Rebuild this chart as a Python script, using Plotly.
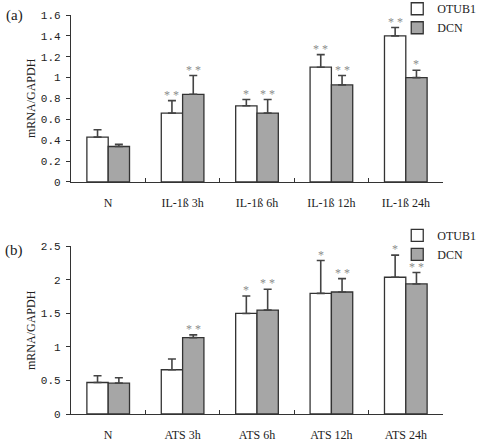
import plotly.graph_objects as go

# ---- data ----
cats_a = ["N", "IL-1ß 3h", "IL-1ß 6h", "IL-1ß 12h", "IL-1ß 24h"]
otub1_a = [0.43, 0.66, 0.73, 1.10, 1.40]
otub1_a_err = [0.07, 0.12, 0.06, 0.12, 0.08]
dcn_a = [0.34, 0.84, 0.66, 0.93, 1.00]
dcn_a_err = [0.02, 0.18, 0.13, 0.09, 0.07]
otub1_a_sig = ["", "**", "*", "**", "**"]
dcn_a_sig = ["", "**", "**", "**", "*"]

cats_b = ["N", "ATS 3h", "ATS 6h", "ATS 12h", "ATS 24h"]
otub1_b = [0.47, 0.66, 1.50, 1.80, 2.04]
otub1_b_err = [0.10, 0.16, 0.26, 0.49, 0.33]
dcn_b = [0.46, 1.14, 1.55, 1.82, 1.94]
dcn_b_err = [0.08, 0.04, 0.31, 0.20, 0.17]
otub1_b_sig = ["", "", "*", "*", "*"]
dcn_b_sig = ["", "**", "**", "**", "**"]

yticks_a = [0, 0.2, 0.4, 0.6, 0.8, 1, 1.2, 1.4, 1.6]
yticks_b = [0, 0.5, 1, 1.5, 2, 2.5]

BARGAP = 0.427
EDGE = "#333333"
GRAY = "#a6a6a6"
STAR = "#8c8c8c"
SERIF = "Liberation Serif"
MONO = "Liberation Mono"

fig = go.Figure()

def add_panel(cats, o, oe, d, de, xa, ya, legend):
    fig.add_trace(go.Bar(
        x=cats, y=o, name="OTUB1", xaxis=xa, yaxis=ya, legend=legend,
        marker=dict(color="white", line=dict(color=EDGE, width=1.3)),
        error_y=dict(type="data", array=oe, arrayminus=[0]*len(oe), symmetric=False,
                     color="#444444", thickness=1.6, width=4),
    ))
    fig.add_trace(go.Bar(
        x=cats, y=d, name="DCN", xaxis=xa, yaxis=ya, legend=legend,
        marker=dict(color=GRAY, line=dict(color=EDGE, width=1.3)),
        error_y=dict(type="data", array=de, arrayminus=[0]*len(de), symmetric=False,
                     color="#444444", thickness=1.6, width=4),
    ))

add_panel(cats_a, otub1_a, otub1_a_err, dcn_a, dcn_a_err, "x", "y", "legend")
add_panel(cats_b, otub1_b, otub1_b_err, dcn_b, dcn_b_err, "x2", "y2", "legend2")

half = (1 - BARGAP) / 4.0  # offset of each bar centre from category centre

def add_stars(vals, errs, sigs, xref, yref, sign):
    for i, (v, e, s) in enumerate(zip(vals, errs, sigs)):
        if not s:
            continue
        fig.add_annotation(
            x=i + sign * half, y=v + e, xref=xref, yref=yref,
            text=" ".join(s), showarrow=False, yanchor="bottom", yshift=-3,
            font=dict(family=SERIF, size=12, color=STAR),
        )

add_stars(otub1_a, otub1_a_err, otub1_a_sig, "x", "y", -1)
add_stars(dcn_a, dcn_a_err, dcn_a_sig, "x", "y", 1)
add_stars(otub1_b, otub1_b_err, otub1_b_sig, "x2", "y2", -1)
add_stars(dcn_b, dcn_b_err, dcn_b_sig, "x2", "y2", 1)

TOP_DOM = [0.5815, 1.0]
BOT_DOM = [0.0, 0.42]

xcommon = dict(showline=True, linecolor=EDGE, linewidth=1.3, ticks="inside", ticklen=4,
               tickcolor=EDGE, tickson="boundaries", showgrid=False,
               tickfont=dict(family=SERIF, size=12, color="#222222"), ticklabelstandoff=9)
ycommon = dict(showline=True, linecolor=EDGE, linewidth=1.3, ticks="outside", ticklen=4,
               tickcolor=EDGE, showgrid=False, zeroline=False,
               tickfont=dict(family=MONO, size=11, color="#222222"), ticklabelstandoff=3)

fig.update_layout(
    width=484, height=443,
    margin=dict(l=71, r=41, t=15, b=29, autoexpand=False),
    paper_bgcolor="white", plot_bgcolor="white",
    barmode="group", bargap=BARGAP, bargroupgap=0,
    xaxis=dict(domain=[0, 1], anchor="y", **xcommon),
    yaxis=dict(domain=TOP_DOM, anchor="x", range=[0, 1.6], tickvals=yticks_a,
               ticktext=[f"{t:g}" for t in yticks_a], **ycommon),
    xaxis2=dict(domain=[0, 1], anchor="y2", **xcommon),
    yaxis2=dict(domain=BOT_DOM, anchor="x2", range=[0, 2.5], tickvals=yticks_b,
                ticktext=[f"{t:g}" for t in yticks_b], **ycommon),
    legend=dict(x=0.877, y=1.052, xanchor="left", yanchor="top", bgcolor="rgba(0,0,0,0)",
                font=dict(family=SERIF, size=12, color="#222222"), itemwidth=30,
                tracegroupgap=0),
    legend2=dict(x=0.877, y=0.484, xanchor="left", yanchor="top", bgcolor="rgba(0,0,0,0)",
                 font=dict(family=SERIF, size=12, color="#222222"), itemwidth=30,
                 tracegroupgap=0),
    showlegend=True,
)

# panel labels and y titles
for txt, ypix in [("(a)", 15), ("(b)", 250)]:
    fig.add_annotation(text=txt, xref="paper", yref="paper", x=(14 - 71) / 372,
                       y=(414 - ypix) / 399, showarrow=False, xanchor="center",
                       yanchor="middle", font=dict(family=SERIF, size=15, color="#222222"))
for ypix in [98, 330]:
    fig.add_annotation(text="mRNA/GAPDH", xref="paper", yref="paper", x=(31 - 71) / 372,
                       y=(414 - ypix) / 399, showarrow=False, textangle=-90,
                       xanchor="center", yanchor="middle",
                       font=dict(family=SERIF, size=12, color="#222222"))

fig.write_html("out.html", config={"displayModeBar": False},
               post_script="document.body.style.margin='0';document.body.style.overflow='hidden';")
